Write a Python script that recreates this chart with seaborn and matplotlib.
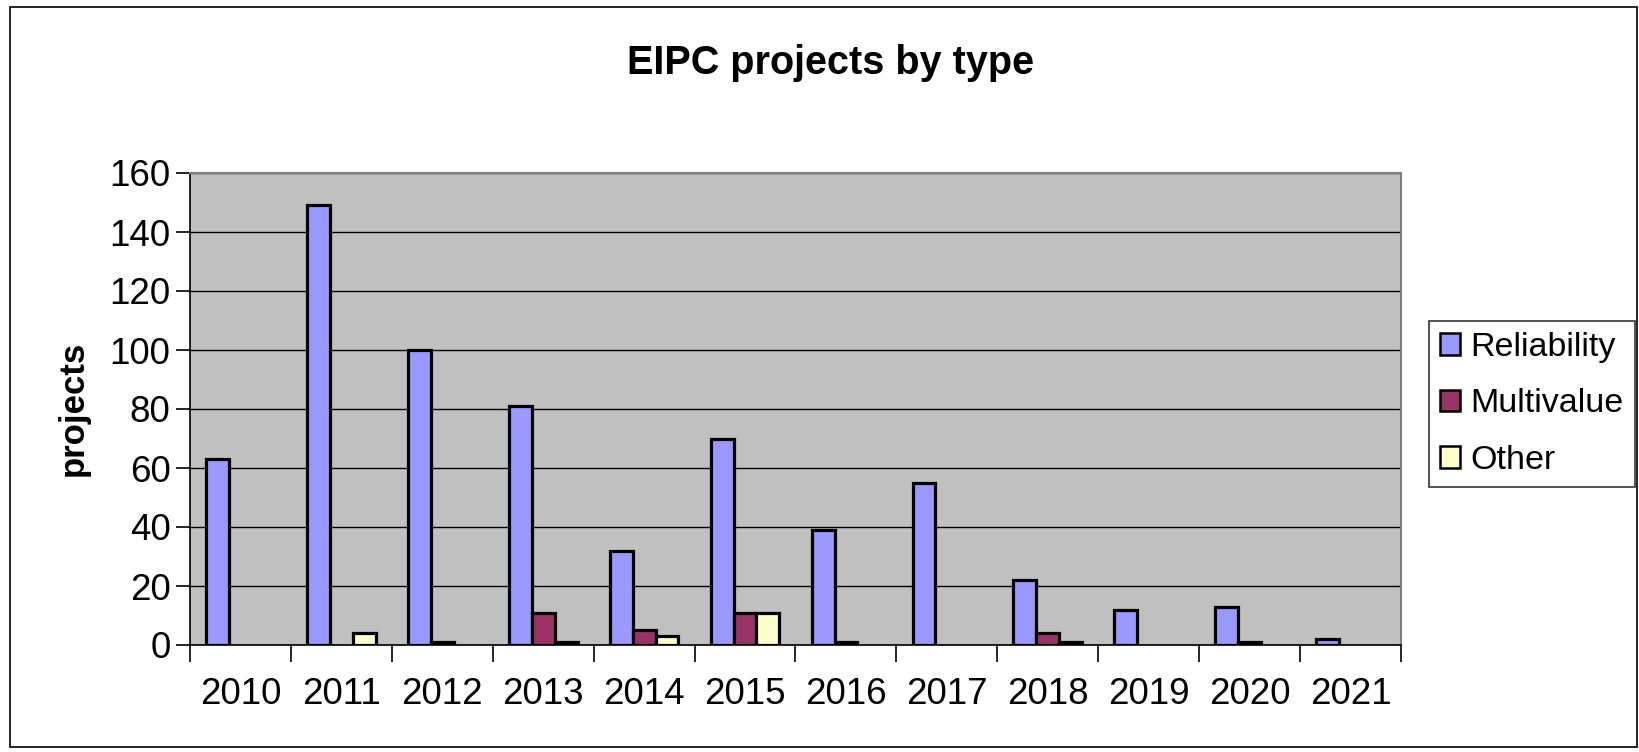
import numpy as np
import pandas as pd
import matplotlib
matplotlib.use('Agg')
import matplotlib.pyplot as plt
from matplotlib.patches import Rectangle
import seaborn as sns

# values
years = ['2010', '2011', '2012', '2013', '2014', '2015',
         '2016', '2017', '2018', '2019', '2020', '2021']
reliability = [63, 149, 100, 81, 32, 70, 39, 55, 22, 12, 13, 2]
multivalue = [0, 0, 1, 11, 5, 11, 1, 0, 4, 0, 1, 0]
other = [0, 4, 0, 1, 3, 11, 0, 0, 1, 0, 0, 0]
series_names = ['Reliability', 'Multivalue', 'Other']
series_colors = ['#9999FF', '#993366', '#FFFFCC']
y_ticks = [0, 20, 40, 60, 80, 100, 120, 140, 160]

plt.rcParams['font.family'] = ['Liberation Sans', 'DejaVu Sans']

# long table for seaborn, zero counts are not drawn (like in excel)
df = pd.DataFrame({'year': years * 3,
                   'type': np.repeat(series_names, len(years)),
                   'projects': reliability + multivalue + other})
df['projects'] = df['projects'].replace(0, np.nan)

W, H = 1640, 752
fig = plt.figure(figsize=(W / 100, H / 100), dpi=100)
fig.patch.set_facecolor('white')
fig.patches.append(Rectangle((10 / W, 5 / H), 1627 / W, 740 / H,
                             transform=fig.transFigure, fill=False,
                             edgecolor='black', linewidth=1.2))

ax = fig.add_axes([190 / W, 1 - 645 / H, (1401 - 190) / W, (645 - 173) / H])
ax.set_facecolor('#C0C0C0')

sns.barplot(data=df, x='year', y='projects', hue='type',
            hue_order=series_names, palette=series_colors, order=years,
            width=0.68, edgecolor='black', linewidth=2.3, saturation=1,
            ax=ax, legend=False, zorder=3)

ax.set_ylim(0, 160)
ax.set_xlim(-0.5, len(years) - 0.5)
ax.set_yticks(y_ticks)
ax.yaxis.grid(True, color='black', linewidth=1)
ax.set_axisbelow(True)
ax.tick_params(axis='y', labelsize=26.5, length=10, width=1.2, pad=4)

# category ticks sit between the groups
ax.set_xticks(range(len(years)))
ax.set_xticklabels(years)
ax.set_xticks(np.arange(-0.5, len(years), 1), minor=True)
ax.tick_params(axis='x', which='major', length=0, labelsize=26.5, pad=23)
ax.tick_params(axis='x', which='minor', length=12, width=1.2)
ax.set_xlabel('')
ax.set_ylabel('')

for side in ['top', 'right']:
    ax.spines[side].set_color('#808080')
    ax.spines[side].set_linewidth(1.5)
ax.spines['left'].set_color('black')
ax.spines['bottom'].set_color('black')
ax.spines['left'].set_linewidth(1.2)
ax.spines['bottom'].set_linewidth(1.2)

fig.text(831 / W, 1 - 63 / H, 'EIPC projects by type', ha='center',
         va='center', fontsize=28.5, fontweight='bold')
fig.text(73 / W, 1 - 408 / H, 'projects', ha='center', va='center',
         rotation=90, fontsize=25, fontweight='bold')

handles = [Rectangle((0, 0), 1, 1, facecolor=c, edgecolor='black', linewidth=1.8)
           for c in series_colors]
leg = ax.legend(handles, series_names, loc='upper left',
                bbox_to_anchor=(1429 / W, 1 - 321 / H),
                bbox_transform=fig.transFigure, fontsize=24.5,
                frameon=True, fancybox=False, edgecolor='black',
                handlelength=0.6, handleheight=0.6, handletextpad=0.3,
                labelspacing=0.75, borderpad=0.32, borderaxespad=0)
leg.get_frame().set_linewidth(1.2)

fig.savefig('out.png', dpi=100)
